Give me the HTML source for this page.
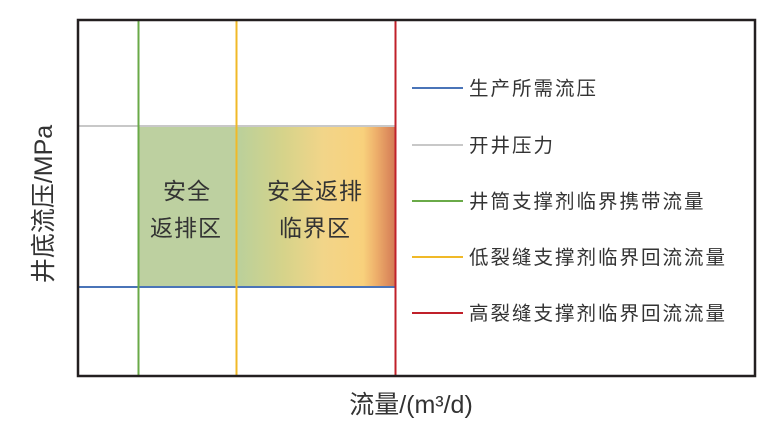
<!DOCTYPE html>
<html><head><meta charset="utf-8"><style>
body{margin:0;background:#fff;}
svg text{font-family:"Liberation Sans","Noto Sans CJK SC",sans-serif;fill:#333;}
</style></head><body>
<svg width="777" height="430" viewBox="0 0 777 430" xmlns="http://www.w3.org/2000/svg">
<defs>
<linearGradient id="g" x1="0" x2="1" y1="0" y2="0">
<stop offset="0" stop-color="#b9d09b"/>
<stop offset="0.3" stop-color="#d6d38a"/>
<stop offset="0.55" stop-color="#f2d589"/>
<stop offset="0.8" stop-color="#f8d17c"/>
<stop offset="0.88" stop-color="#eeb06b"/>
<stop offset="1" stop-color="#d47a55"/>
</linearGradient>
</defs>
<rect x="138" y="126" width="98" height="161" fill="#bdd0a0"/>
<rect x="236" y="126" width="159" height="161" fill="url(#g)"/>
<line x1="78" y1="126" x2="395" y2="126" stroke="#c8c8c8" stroke-width="2"/>
<line x1="78" y1="287" x2="395" y2="287" stroke="#4a74b8" stroke-width="2"/>
<line x1="138.5" y1="20" x2="138.5" y2="375" stroke="#6aaa48" stroke-width="2"/>
<line x1="236.5" y1="20" x2="236.5" y2="375" stroke="#f0b928" stroke-width="2"/>
<line x1="395.5" y1="20" x2="395.5" y2="375" stroke="#c0202a" stroke-width="2"/>
<rect x="78" y="20" width="677" height="356" fill="none" stroke="#231f20" stroke-width="2.5"/>
<text x="187" y="199" font-size="23" text-anchor="middle" letter-spacing="1">安全</text>
<text x="186" y="236" font-size="23" text-anchor="middle" letter-spacing="1">返排区</text>
<text x="315" y="199" font-size="23" text-anchor="middle" letter-spacing="1">安全返排</text>
<text x="315" y="236" font-size="23" text-anchor="middle" letter-spacing="1">临界区</text>
<g stroke-width="2">
<line x1="412" y1="88" x2="463" y2="88" stroke="#4a74b8"/>
<line x1="412" y1="145" x2="463" y2="145" stroke="#c8c8c8"/>
<line x1="412" y1="201" x2="463" y2="201" stroke="#6aaa48"/>
<line x1="412" y1="257" x2="463" y2="257" stroke="#f0b928"/>
<line x1="412" y1="313" x2="463" y2="313" stroke="#c0202a"/>
</g>
<g font-size="19.5" letter-spacing="2">
<text x="469" y="95">生产所需流压</text>
<text x="469" y="152">开井压力</text>
<text x="469" y="208">井筒支撑剂临界携带流量</text>
<text x="469" y="264">低裂缝支撑剂临界回流流量</text>
<text x="469" y="320">高裂缝支撑剂临界回流流量</text>
</g>
<text x="411" y="413" font-size="25" text-anchor="middle">流量/(m³/d)</text>
<text transform="translate(52,204) rotate(-90)" font-size="25" text-anchor="middle">井底流压/MPa</text>
</svg>
</body></html>
